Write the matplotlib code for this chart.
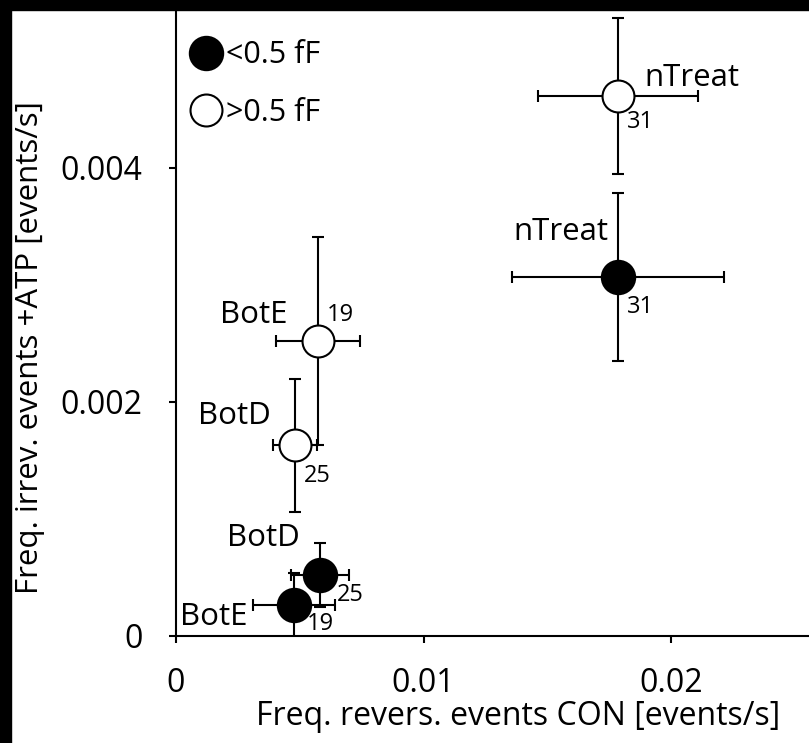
import matplotlib as mpl
import matplotlib.pyplot as plt
from matplotlib.lines import Line2D
from matplotlib.patches import Rectangle

mpl.rcParams.update(
    {
        "font.family": ["Open Sans", "DejaVu Sans"],
        "axes.spines.top": False,
        "axes.spines.right": False,
        "axes.linewidth": 1.5,
        "xtick.major.width": 1.5,
        "ytick.major.width": 1.5,
        "xtick.major.size": 5,
        "ytick.major.size": 5,
    }
)

# --- data -----------------------------------------------------------------
groups = ["nTreat", "BotD", "BotE"]
n_cells = [31, 25, 19]

# events with amplitude < 0.5 fF (filled circles)
x_small = [0.01786, 0.00582, 0.00477]
xerr_small = [0.0043, 0.00119, 0.00165]
y_small = [0.00307, 0.00052, 0.000265]
yerr_small = [0.00072, 0.000274, 0.000274]

# events with amplitude > 0.5 fF (open circles)
x_large = [0.01786, 0.00481, 0.00574]
xerr_large = [0.00325, 0.00089, 0.0017]
y_large = [0.004615, 0.00163, 0.00252]
yerr_large = [0.000667, 0.00057, 0.00089]

x_ticks = [0, 0.01, 0.02]
x_tick_labels = ["0", "0.01", "0.02"]
y_ticks = [0, 0.002, 0.004]
y_tick_labels = ["0", "0.002", "0.004"]

# label offsets (points) from each marker: (name, n)
off_small = [((-41, 32), (16, -22)), ((-41, 27), (22, -14)), ((-58, -9), (19, -14))]
off_large = [((53, 13), (16, -19)), ((-44, 21), (16, -22)), ((-46, 19), (16, 19))]

W, H = 809, 743
fig = plt.figure(figsize=(W / 100, H / 100), dpi=100)
ax = fig.add_axes([176 / W, 107 / H, (W - 176) / W, (H - 107) / H])

eb = dict(fmt="o", color="black", ecolor="black", elinewidth=1.5,
          capsize=4.5, capthick=1.5, mec="black", mew=1.5)
ax.errorbar(x_large, y_large, xerr=xerr_large, yerr=yerr_large,
            ms=23, mfc="white", zorder=3, **eb)
ax.errorbar(x_small, y_small, xerr=xerr_small, yerr=yerr_small,
            ms=24, mfc="black", zorder=4, **eb)

for xs, ys, offs in ((x_small, y_small, off_small), (x_large, y_large, off_large)):
    for g, n, x, y, (o_name, o_n) in zip(groups, n_cells, xs, ys, offs):
        ax.annotate(g, (x, y), xytext=o_name, textcoords="offset points",
                    ha="center", va="center", fontsize=22.5, zorder=6)
        ax.annotate(str(n), (x, y), xytext=o_n, textcoords="offset points",
                    ha="center", va="center", fontsize=17, zorder=6)

ax.set_xlim(0, (W - 176) / 24750)
ax.set_ylim(0, 636 / 117000)
ax.set_xticks(x_ticks, x_tick_labels, fontsize=23)
ax.set_yticks(y_ticks, y_tick_labels, fontsize=23)
ax.tick_params(axis="x", pad=17)
ax.tick_params(axis="y", pad=19)

ax.set_xlabel("Freq. revers. events CON [events/s]", fontsize=23)
ax.xaxis.set_label_coords(0.54, -0.1)
ax.set_ylabel("Freq. irrev. events +ATP [events/s]", fontsize=22.5)
ax.yaxis.set_label_coords(-0.207, 0.453)

handles = [
    Line2D([], [], ls="none", marker="o", ms=24, mfc="black", mec="black", mew=1.5),
    Line2D([], [], ls="none", marker="o", ms=23, mfc="white", mec="black", mew=1.5),
]
ax.legend(handles, ["<0.5 fF", ">0.5 fF"], loc="upper left",
          bbox_to_anchor=(-0.015, 0.975), frameon=False, fontsize=22,
          handlelength=1.0, handletextpad=0.15, labelspacing=0.9,
          borderpad=0.3)

# black frame strips along the top and left edge of the original image
fig.add_artist(Rectangle((0, 0), 11 / W, 1, transform=fig.transFigure,
                         color="black", zorder=20))
fig.add_artist(Rectangle((0, 1 - 10 / H), 1, 10 / H, transform=fig.transFigure,
                         color="black", zorder=20))

fig.savefig("out.png", dpi=100)
